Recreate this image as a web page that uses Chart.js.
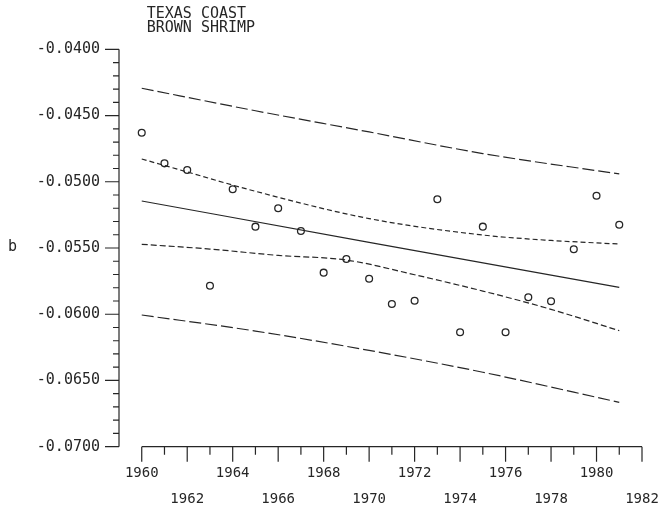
<!DOCTYPE html>
<html><head><meta charset="utf-8">
<script src="https://cdn.jsdelivr.net/npm/chart.js@4/dist/chart.umd.min.js"></script>
<style>html,body{margin:0;padding:0;background:#fff}#wrap{width:661px;height:510px}</style>
</head><body><div id="wrap"><canvas id="c" width="661" height="510"></canvas></div>
<script>
const titleLines = ['TEXAS COAST', 'BROWN SHRIMP'];
const yAxisLabel = 'b';

// observed b values, one per year
const years   = [1960,1961,1962,1963,1964,1965,1966,1967,1968,1969,1970,1971,1972,1973,1974,1975,1976,1977,1978,1979,1980,1981];
const bValues = [-0.04630,-0.04861,-0.04911,-0.05785,-0.05057,-0.05339,-0.05200,-0.05372,-0.05686,-0.05583,-0.05732,-0.05923,-0.05898,-0.05132,-0.06136,-0.05339,-0.06136,-0.05872,-0.05902,-0.05510,-0.05105,-0.05324];

// regression line
const fitYears  = [1960, 1970, 1981];
const fitValues = [-0.05145, -0.05457, -0.05797];

// outer (long dash) band
const outerYears = [1960, 1965, 1970, 1975, 1981];
const outerUpper = [-0.04294, -0.04464, -0.04624, -0.04787, -0.04941];
const outerLower = [-0.06006, -0.06127, -0.06273, -0.06438, -0.06665];

// inner (short dash) band
const innerUpperYears = [1960, 1962, 1965, 1970, 1975, 1978, 1981];
const innerUpper      = [-0.04828, -0.04926, -0.05072, -0.05278, -0.05402, -0.05443, -0.05470];
const innerLowerYears = [1960, 1963, 1966, 1969, 1972, 1975, 1978, 1981];
const innerLower      = [-0.05472, -0.05508, -0.05556, -0.05591, -0.05702, -0.05825, -0.05963, -0.06124];

// axes
const xTickYears  = [1960,1962,1964,1966,1968,1970,1972,1974,1976,1978,1980,1982];
const xTickLabels = ['1960','1962','1964','1966','1968','1970','1972','1974','1976','1978','1980','1982'];
const yTickValues = [-0.0700,-0.0650,-0.0600,-0.0550,-0.0500,-0.0450,-0.0400];
const yTickLabels = ['-0.0700','-0.0650','-0.0600','-0.0550','-0.0500','-0.0450','-0.0400'];

const INK = '#262626';
const FONT = '"DejaVu Sans Mono", "Liberation Mono", monospace';

const pts = (xs, ys) => xs.map((x, i) => ({x: x, y: ys[i]}));

const lineDs = (xs, ys, dash) => ({
  data: pts(xs, ys), showLine: true, pointRadius: 0, borderColor: INK,
  borderWidth: 1.2, borderDash: dash, cubicInterpolationMode: 'monotone', fill: false
});

const axesPlugin = {
  id: 'plotterAxes',
  afterDraw(chart) {
    const {ctx, chartArea, scales} = chart;
    const x = scales.x, y = scales.y;
    ctx.save();
    ctx.strokeStyle = INK; ctx.lineWidth = 1.2;
    ctx.beginPath();
    const yl = chartArea.left;
    const yMin = yTickValues[0], yMax = yTickValues[yTickValues.length - 1];
    ctx.moveTo(yl, y.getPixelForValue(yMax));
    ctx.lineTo(yl, y.getPixelForValue(yMin));
    const nMinor = Math.round((yMax - yMin) / 0.001);
    for (let i = 0; i <= nMinor; i++) {
      const py = y.getPixelForValue(yMin + i * 0.001);
      const len = (i % 5 === 0) ? 14 : 6;
      ctx.moveTo(yl - len, py); ctx.lineTo(yl, py);
    }
    const xb = chartArea.bottom;
    const x0 = xTickYears[0], x1 = xTickYears[xTickYears.length - 1];
    ctx.moveTo(x.getPixelForValue(x0), xb);
    ctx.lineTo(x.getPixelForValue(x1), xb);
    for (let yr = x0; yr <= x1; yr++) {
      const px = x.getPixelForValue(yr);
      const len = (yr % 2 === 0) ? 15 : 8;
      ctx.moveTo(px, xb); ctx.lineTo(px, xb + len);
    }
    ctx.stroke();
    ctx.fillStyle = INK;
    ctx.font = '15px ' + FONT;
    ctx.textAlign = 'left'; ctx.textBaseline = 'middle';
    const tx = x.getPixelForValue(x0) + 5;
    ctx.fillText(titleLines[0], tx, 14);
    ctx.fillText(titleLines[1], tx, 28.5);
    ctx.fillText(yAxisLabel, 8, y.getPixelForValue(-0.055) - 1);
    ctx.restore();
  }
};

new Chart(document.getElementById('c'), {
  type: 'scatter',
  data: {
    datasets: [
      lineDs(outerYears, outerUpper, [12, 4]),
      lineDs(outerYears, outerLower, [12, 4]),
      lineDs(innerUpperYears, innerUpper, [5, 3]),
      lineDs(innerLowerYears, innerLower, [6, 3]),
      lineDs(fitYears, fitValues, []),
      {
        data: pts(years, bValues), showLine: false, pointStyle: 'circle',
        pointRadius: 3.4, pointBorderWidth: 1.3, pointBorderColor: INK,
        pointBackgroundColor: 'rgba(255,255,255,0)'
      }
    ]
  },
  options: {
    responsive: false, animation: false,
    layout: {padding: {top: 49.3, right: 19, left: 0, bottom: 0}},
    plugins: {legend: {display: false}, tooltip: {enabled: false}, title: {display: false}},
    scales: {
      x: {
        type: 'linear', position: 'bottom', min: 1959, max: 1982,
        grid: {display: false, drawTicks: false}, border: {display: false},
        afterBuildTicks: s => { s.ticks = xTickYears.map(v => ({value: v})); },
        afterFit: s => { s.height = 63.3; s.paddingLeft = 0; s.paddingRight = 0; },
        ticks: {
          autoSkip: false, maxRotation: 0, minRotation: 0, padding: 14, color: INK,
          font: {family: FONT, size: 14, lineHeight: '26px'},
          callback: (v, i) => (i % 2 === 0) ? [xTickLabels[i], ''] : ['', xTickLabels[i]]
        }
      },
      y: {
        type: 'linear', position: 'left', min: -0.07, max: -0.04,
        grid: {display: false, drawTicks: false}, border: {display: false},
        afterBuildTicks: s => { s.ticks = yTickValues.map(v => ({value: v})); },
        afterFit: s => { s.width = 119; s.paddingTop = 0; s.paddingBottom = 0; },
        ticks: {
          autoSkip: false, padding: 19, color: INK,
          font: {family: FONT, size: 15},
          callback: (v, i) => yTickLabels[i]
        }
      }
    }
  },
  plugins: [axesPlugin]
});
</script>
</body></html>
